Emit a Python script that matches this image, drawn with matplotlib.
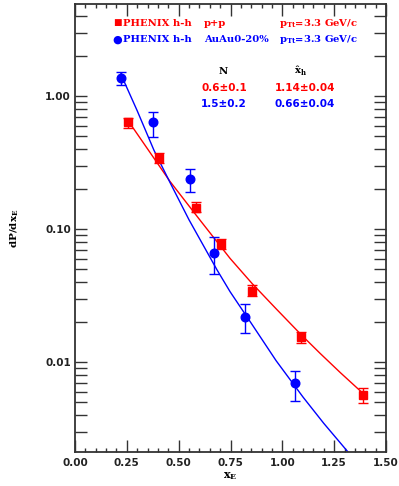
import matplotlib
matplotlib.use("Agg")
import matplotlib.pyplot as plt
from matplotlib.ticker import MultipleLocator, LogLocator, NullFormatter, FixedLocator, FixedFormatter

plt.rcParams['mathtext.fontset'] = 'dejavuserif'

# p+p data (red squares)
pp_x = [0.256, 0.405, 0.582, 0.704, 0.854, 1.090, 1.389]
pp_y = [0.637, 0.342, 0.146, 0.0772, 0.0342, 0.0154, 0.00565]
pp_up = [0.684, 0.373, 0.160, 0.0841, 0.0379, 0.0168, 0.00638]
pp_lo = [0.574, 0.313, 0.134, 0.0707, 0.0313, 0.0139, 0.00492]

# AuAu 0-20% data (blue circles)
au_x = [0.222, 0.376, 0.555, 0.671, 0.820, 1.061]
au_y = [1.366, 0.637, 0.238, 0.066, 0.0218, 0.00695]
au_up = [1.515, 0.758, 0.283, 0.0871, 0.0273, 0.00855]
au_lo = [1.21, 0.492, 0.190, 0.0459, 0.0165, 0.0051]

# fit curves
pp_fit_x = [0.256, 0.275, 0.458, 0.60, 0.748, 0.854, 0.97, 1.090, 1.182, 1.28, 1.389]
pp_fit_y = [0.660, 0.595, 0.2296, 0.119, 0.0605, 0.0392, 0.0253, 0.0162, 0.0117, 0.00837, 0.00585]
au_fit_x = [0.222, 0.241, 0.30, 0.381, 0.458, 0.55, 0.685, 0.748, 0.85, 0.970, 1.10, 1.20, 1.327]
au_fit_y = [1.48, 1.252, 0.78, 0.393, 0.2256, 0.118, 0.0496, 0.0340, 0.0197, 0.0103, 0.00548, 0.00348, 0.00203]

xticks = [0.0, 0.25, 0.5, 0.75, 1.0, 1.25, 1.5]
xticklabels = ["0.00", "0.25", "0.50", "0.75", "1.00", "1.25", "1.50"]
yticks = [0.01, 0.1, 1.0]
yticklabels = ["0.01", "0.10", "1.00"]

RED = "#ff0000"
BLUE = "#0000ff"

fig = plt.figure(figsize=(3.99, 4.86), dpi=100)
ax = fig.add_axes([75/399, 34/486, 311/399, 448/486])
ax.set_yscale('log')
ax.set_xlim(0, 1.5)
ax.set_ylim(0.00212, 4.95)

ax.plot(pp_fit_x, pp_fit_y, color=RED, lw=1.0, zorder=2)
ax.plot(au_fit_x, au_fit_y, color=BLUE, lw=1.0, zorder=2)

pp_err = [[y - l for y, l in zip(pp_y, pp_lo)], [u - y for y, u in zip(pp_y, pp_up)]]
au_err = [[y - l for y, l in zip(au_y, au_lo)], [u - y for y, u in zip(au_y, au_up)]]
ax.errorbar(pp_x, pp_y, yerr=pp_err, fmt='s', color=RED, ms=5.2, capsize=3.5,
            elinewidth=1.0, capthick=1.0, zorder=3)
ax.errorbar(au_x, au_y, yerr=au_err, fmt='o', color=BLUE, ms=6.2, capsize=3.5,
            elinewidth=1.0, capthick=1.0, zorder=3)

# ticks
ax.xaxis.set_major_locator(FixedLocator(xticks))
ax.xaxis.set_major_formatter(FixedFormatter(xticklabels))
ax.xaxis.set_minor_locator(MultipleLocator(0.05))
ax.yaxis.set_major_locator(FixedLocator(yticks))
ax.yaxis.set_major_formatter(FixedFormatter(yticklabels))
ax.yaxis.set_minor_locator(LogLocator(base=10, subs=range(2, 10)))
ax.yaxis.set_minor_formatter(NullFormatter())
ax.tick_params(which='both', direction='in', top=True, right=True, color='#333333')
ax.tick_params(axis='x', which='major', length=8.5, width=1.0, labelsize=7.5, pad=4)
ax.tick_params(axis='x', which='minor', length=3, width=1.0)
ax.tick_params(axis='y', which='major', length=8.5, width=1.0, labelsize=7.5, pad=3)
ax.tick_params(axis='y', which='minor', length=8.5, width=1.0)
for lab in ax.get_xticklabels() + ax.get_yticklabels():
    lab.set_fontweight('bold')
    lab.set_color('#222222')
for s in ax.spines.values():
    s.set_linewidth(1.3)
    s.set_color('#333333')

ax.set_xlabel(r'$\mathbf{x_E}$', fontsize=8, labelpad=2)
ax.set_ylabel(r'dP/dx$_\mathbf{E}$', fontsize=7.5, family='DejaVu Serif', fontweight='bold', labelpad=17)

def px(x, y):
    return (x / 399, 1 - y / 486)

sfont = dict(family='DejaVu Serif', fontweight='bold', fontsize=7.2, va='center', transform=fig.transFigure)
nfont = dict(family='DejaVu Sans', fontweight='bold', fontsize=7.5, va='center', ha='center', transform=fig.transFigure)

# legend rows
fig.text(*px(117, 23), u"\u25A0", color=RED, fontsize=6.5, ha='center', va='center', family='DejaVu Sans')
fig.text(*px(117, 40), u"\u25CF", color=BLUE, fontsize=8, ha='center', va='center', family='DejaVu Sans')
fig.text(*px(123, 23), "PHENIX h-h", color=RED, ha='left', **sfont)
fig.text(*px(204, 23), "p+p", color=RED, ha='left', **sfont)
fig.text(*px(279, 23), r"$\mathbf{p_{Tt}}$=3.3 GeV/c", color=RED, ha='left', **sfont)
fig.text(*px(123, 40), "PHENIX h-h", color=BLUE, ha='left', **sfont)
fig.text(*px(204, 40), "AuAu0-20%", color=BLUE, ha='left', **sfont)
fig.text(*px(279, 40), r"$\mathbf{p_{Tt}}$=3.3 GeV/c", color=BLUE, ha='left', **sfont)

hfont = {k: v for k, v in sfont.items()}
fig.text(*px(223, 71), "N", color='black', ha='center', **hfont)
fig.text(*px(300, 71), r"$\mathbf{\hat{x}_h}$", color='black', ha='center', **hfont)
fig.text(*px(224, 88), u"0.6\u00b10.1", color=RED, **nfont)
fig.text(*px(305, 88), u"1.14\u00b10.04", color=RED, **nfont)
fig.text(*px(224, 104), u"1.5\u00b10.2", color=BLUE, **nfont)
fig.text(*px(305, 104), u"0.66\u00b10.04", color=BLUE, **nfont)

fig.savefig("out.png", dpi=100)
